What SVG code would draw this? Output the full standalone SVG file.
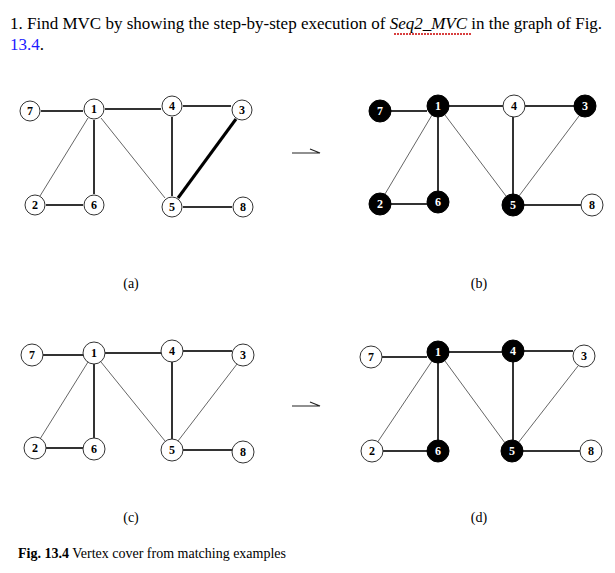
<svg xmlns="http://www.w3.org/2000/svg" width="615" height="573" viewBox="0 0 615 573">
<style>
text{font-family:"Liberation Serif",serif}
.t{font-size:17px;fill:#000}
.n circle{stroke:#333;stroke-width:1;fill:#fff}
.n.f circle{fill:#000;stroke:#000}
.n text{font-size:12px;text-anchor:middle;font-weight:bold}
.n.f text{fill:#fff}
.h{stroke:#333;stroke-width:2}
.d{stroke:#666;stroke-width:1}
.lab{font-size:14px;text-anchor:middle}
</style>
<rect width="615" height="573" fill="#fff"/>
<text class="t" x="10" y="29">1. Find MVC by showing the step-by-step execution of <tspan font-style="italic">Seq2_MVC</tspan> in the graph of Fig.</text>
<path d="M394 34 h78" stroke="#c00" stroke-width="1.5" stroke-dasharray="2,1"/>
<text class="t" x="10" y="50"><tspan fill="#1a1aff">13.4</tspan>.</text>
<g id="connectors">
<path class="h" d="M41 111H83M105 109H161M183 106H231M94 120V194M46 205H83M172 117V196M183 207H232"/>
<path class="d" d="M88 118L40 196M101 118L165 198"/>
<path d="M236 119L178 198" stroke="#000" stroke-width="3"/>
<path class="h" d="M391 111H427M449 106H503M525 106H574M438 117V191M391 204H427M513 117V194M524 205H581"/>
<path class="d" d="M432 115L385 194M445 115L506 196M579 116L519 196"/>
<path class="h" d="M43 355H83M105 353H161M183 351H232M94 364V438M46 448H83M172 362V439M183 450H232"/>
<path class="d" d="M88 362L40 439M101 362L165 441M237 364L178 441"/>
<path class="h" d="M382 357H427M449 352H502M524 351H573M438 363V440M383 451H427M513 362V440M523 451H580"/>
<path class="d" d="M432 361L377 443M445 361L505 443M578 366L518 443"/>
<path d="M292 153H320L310 149M292 406H320L310 402" stroke="#222" stroke-width="1.2" fill="none"/>
</g>
<g id="a">
<g class="n" id="a7"><circle cx="30" cy="111" r="10"/><text x="30" y="115">7</text></g>
<g class="n" id="a1"><circle cx="94" cy="109" r="10"/><text x="94" y="113">1</text></g>
<g class="n" id="a4"><circle cx="172" cy="106" r="10"/><text x="172" y="110">4</text></g>
<g class="n" id="a3"><circle cx="242" cy="110" r="10"/><text x="242" y="114">3</text></g>
<g class="n" id="a2"><circle cx="35" cy="205" r="10"/><text x="35" y="209">2</text></g>
<g class="n" id="a6"><circle cx="94" cy="205" r="10"/><text x="94" y="209">6</text></g>
<g class="n" id="a5"><circle cx="172" cy="207" r="10"/><text x="172" y="211">5</text></g>
<g class="n" id="a8"><circle cx="243" cy="207" r="10"/><text x="243" y="211">8</text></g>
</g>
<g id="b">
<g class="n f" id="b7"><circle cx="380" cy="111" r="11"/><text x="380" y="115">7</text></g>
<g class="n f" id="b1"><circle cx="438" cy="106" r="11"/><text x="438" y="110">1</text></g>
<g class="n" id="b4"><circle cx="514" cy="106" r="11"/><text x="514" y="110">4</text></g>
<g class="n f" id="b3"><circle cx="585" cy="106" r="11"/><text x="585" y="110">3</text></g>
<g class="n f" id="b2"><circle cx="380" cy="204" r="11"/><text x="380" y="208">2</text></g>
<g class="n f" id="b6"><circle cx="438" cy="202" r="11"/><text x="438" y="206">6</text></g>
<g class="n f" id="b5"><circle cx="513" cy="205" r="11"/><text x="513" y="209">5</text></g>
<g class="n" id="b8"><circle cx="592" cy="205" r="11"/><text x="592" y="209">8</text></g>
</g>
<g id="c">
<g class="n" id="c7"><circle cx="32" cy="355" r="11"/><text x="32" y="359">7</text></g>
<g class="n" id="c1"><circle cx="94" cy="353" r="11"/><text x="94" y="357">1</text></g>
<g class="n" id="c4"><circle cx="172" cy="351" r="11"/><text x="172" y="355">4</text></g>
<g class="n" id="c3"><circle cx="243" cy="355" r="11"/><text x="243" y="359">3</text></g>
<g class="n" id="c2"><circle cx="35" cy="448" r="11"/><text x="35" y="452">2</text></g>
<g class="n" id="c6"><circle cx="94" cy="449" r="11"/><text x="94" y="453">6</text></g>
<g class="n" id="c5"><circle cx="172" cy="450" r="11"/><text x="172" y="454">5</text></g>
<g class="n" id="c8"><circle cx="243" cy="452" r="11"/><text x="243" y="456">8</text></g>
</g>
<g id="d">
<g class="n" id="d7"><circle cx="371" cy="357" r="11"/><text x="371" y="361">7</text></g>
<g class="n f" id="d1"><circle cx="438" cy="352" r="11"/><text x="438" y="356">1</text></g>
<g class="n f" id="d4"><circle cx="513" cy="351" r="11"/><text x="513" y="355">4</text></g>
<g class="n" id="d3"><circle cx="584" cy="356" r="11"/><text x="584" y="360">3</text></g>
<g class="n" id="d2"><circle cx="372" cy="451" r="11"/><text x="372" y="455">2</text></g>
<g class="n f" id="d6"><circle cx="438" cy="451" r="11"/><text x="438" y="455">6</text></g>
<g class="n f" id="d5"><circle cx="512" cy="451" r="11"/><text x="512" y="455">5</text></g>
<g class="n" id="d8"><circle cx="591" cy="451" r="11"/><text x="591" y="455">8</text></g>
</g>
<text class="lab" x="131" y="288">(a)</text>
<text class="lab" x="479" y="288">(b)</text>
<text class="lab" x="131" y="522">(c)</text>
<text class="lab" x="479" y="522">(d)</text>
<text x="18" y="558" font-size="14"><tspan font-weight="bold">Fig. 13.4</tspan>  Vertex cover from matching examples</text>
</svg>
